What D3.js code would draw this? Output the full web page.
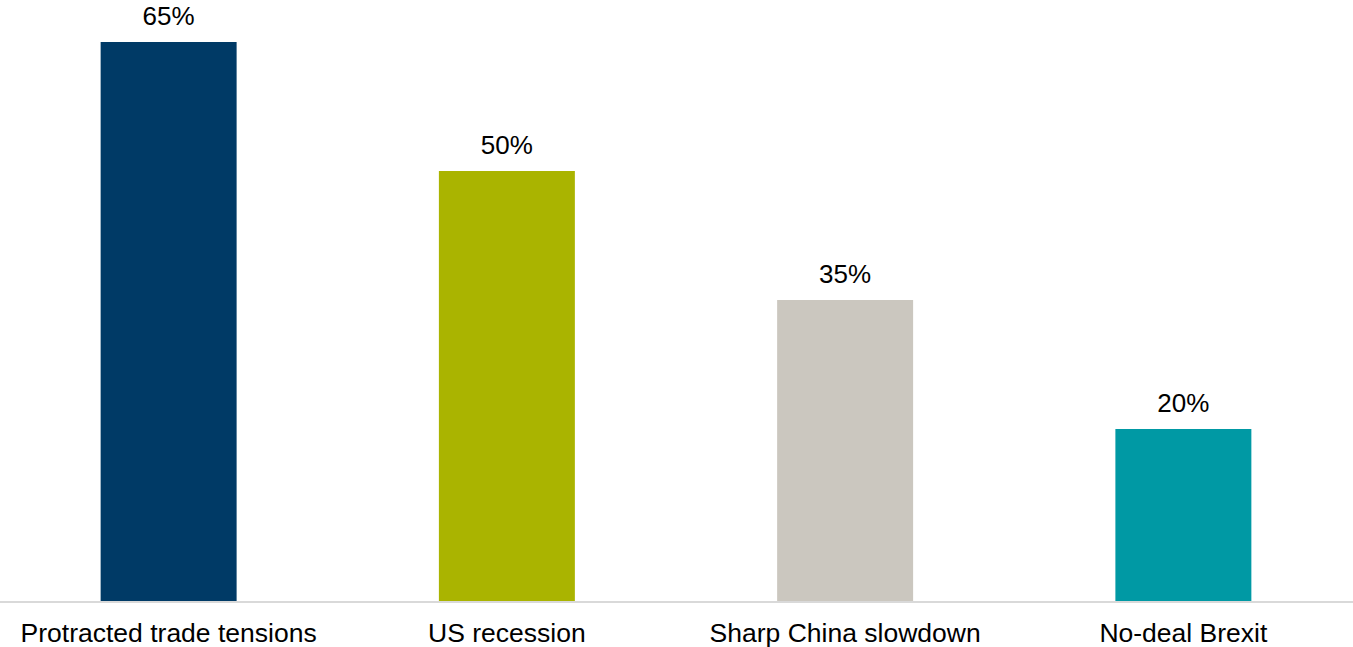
<!DOCTYPE html>
<html>
<head>
<meta charset="utf-8">
<script src="https://cdn.jsdelivr.net/npm/d3@7"></script>
<style>
  html, body { margin: 0; padding: 0; background: #ffffff; }
  svg { display: block; }
  text { font-family: "Liberation Sans", Arial, sans-serif; fill: #000000; }
</style>
</head>
<body>
<svg id="chart" width="1353" height="647"></svg>
<script>
// Probability of each downside scenario, in percent
const categories = ["Protracted trade tensions", "US recession", "Sharp China slowdown", "No-deal Brexit"];
const values = [65, 50, 35, 20];
const barColors = ["#003a66", "#aab400", "#cbc7bf", "#0099a4"];

const width = 1353, height = 647;
const margin = { top: 0, right: 0, bottom: 46, left: 0 };
const baseline = height - margin.bottom; // y of the category axis

const svg = d3.select("#chart");

const x = d3.scaleBand()
  .domain(categories)
  .range([-0.5, width - 0.5])
  .paddingInner(0.598)
  .paddingOuter(0.299);

const y = d3.scaleLinear()
  .domain([0, 65])
  .range([baseline, 42]);

// Bars
svg.append("g")
  .selectAll("rect")
  .data(categories)
  .join("rect")
  .attr("x", d => x(d))
  .attr("y", (d, i) => y(values[i]))
  .attr("width", x.bandwidth())
  .attr("height", (d, i) => baseline - y(values[i]))
  .attr("fill", (d, i) => barColors[i]);

// Value labels above bars
svg.append("g")
  .selectAll("text")
  .data(categories)
  .join("text")
  .attr("x", d => x(d) + x.bandwidth() / 2)
  .attr("y", (d, i) => y(values[i]) - 17)
  .attr("text-anchor", "middle")
  .style("font-size", "26px")
  .text((d, i) => values[i] + "%");

// Category axis
const axis = svg.append("g")
  .attr("transform", `translate(0,${baseline})`)
  .call(d3.axisBottom(x).tickSize(0));
axis.select(".domain")
  .attr("stroke", "#d9d9d9")
  .attr("stroke-width", 2)
  .attr("d", `M0,1H${width}`);
axis.selectAll(".tick text")
  .attr("y", 41)
  .attr("dy", null)
  .style("font-size", "26.5px")
  .style("font-family", "'Liberation Sans', Arial, sans-serif")
  .attr("fill", "#000000");
</script>
</body>
</html>
